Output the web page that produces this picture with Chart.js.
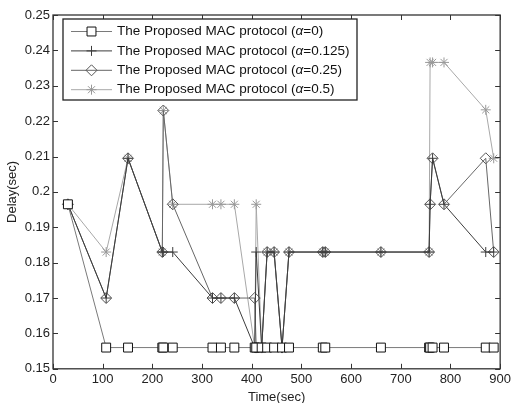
<!DOCTYPE html>
<html>
<head>
<meta charset="utf-8">
<script src="https://cdn.jsdelivr.net/npm/chart.js@4/dist/chart.umd.min.js"></script>
<style>
  html, body { margin: 0; padding: 0; background: #fff; }
  #wrap { width: 514px; height: 403px; }
</style>
</head>
<body>
<div id="wrap"><canvas id="chart"></canvas></div>
<script>
// time stamps (sec) shared by all four runs
const times = [30, 107, 151, 220, 222, 241, 321, 338, 365, 406, 409, 420, 431, 445, 461, 475, 543, 548, 660, 757, 759, 764, 787, 871, 887];

// delay (sec) per run
const delayA0 = [0.1965, 0.156, 0.156, 0.156, 0.156, 0.156, 0.156, 0.156, 0.156, 0.156, 0.156, 0.156, 0.156, 0.156, 0.156, 0.156, 0.156, 0.156, 0.156, 0.156, 0.156, 0.156, 0.156, 0.156, 0.156];
const delayA0125 = [0.1965, 0.170, 0.2095, 0.183, 0.183, 0.183, 0.170, 0.170, 0.170, 0.156, 0.183, 0.156, 0.183, 0.183, 0.156, 0.183, 0.183, 0.183, 0.183, 0.183, 0.1965, 0.2095, 0.1965, 0.183, 0.183];
const delayA025 = [0.1965, 0.170, 0.2095, 0.183, 0.223, 0.1965, 0.170, 0.170, 0.170, 0.170, 0.156, 0.156, 0.183, 0.183, 0.156, 0.183, 0.183, 0.183, 0.183, 0.183, 0.1965, 0.2095, 0.1965, 0.2095, 0.183];
const delayA05 = [0.1965, 0.183, 0.2095, 0.183, 0.223, 0.1965, 0.1965, 0.1965, 0.1965, 0.156, 0.1965, 0.156, 0.183, 0.183, 0.156, 0.183, 0.183, 0.183, 0.183, 0.183, 0.2366, 0.2366, 0.2366, 0.2232, 0.2095];

const alphaLabels = ["0", "0.125", "0.25", "0.5"];
const xTickValues = [0, 100, 200, 300, 400, 500, 600, 700, 800, 900];
const yTickValues = [0.15, 0.16, 0.17, 0.18, 0.19, 0.2, 0.21, 0.22, 0.23, 0.24, 0.25];

const FONT = "'Liberation Sans', Arial, Helvetica, sans-serif";

function pts(ys) {
    return times.map((t, i) => ({ x: t, y: ys[i] }));
}

const series = [
    { ys: delayA0, line: "#7a7a7a", mark: "#111", style: "rect", r: 6.3, bg: "#fff" },
    { ys: delayA0125, line: "#3c3c3c", mark: "#3c3c3c", style: "cross", r: 5, bg: "transparent" },
    { ys: delayA025, line: "#666", mark: "#555", style: "rectRot", r: 5.5, bg: "transparent" },
    { ys: delayA05, line: "#a8a8a8", mark: "#999", style: "star", r: 5, bg: "transparent" },
];

// frame + inward matlab-style ticks, then the boxed legend
const framePlugin = {
    id: "frame",
    afterDatasetsDraw(chart) {
        const { ctx, chartArea: a, scales } = chart;
        ctx.save();
        ctx.strokeStyle = "#333";
        ctx.lineWidth = 1.3;
        ctx.strokeRect(a.left, a.top, a.right - a.left, a.bottom - a.top);
        ctx.lineWidth = 1;
        ctx.beginPath();
        xTickValues.forEach(v => {
            const px = Math.round(scales.x.getPixelForValue(v)) + 0.5;
            ctx.moveTo(px, a.bottom); ctx.lineTo(px, a.bottom - 5);
            ctx.moveTo(px, a.top); ctx.lineTo(px, a.top + 5);
        });
        yTickValues.forEach(v => {
            const py = Math.round(scales.y.getPixelForValue(v)) + 0.5;
            ctx.moveTo(a.left, py); ctx.lineTo(a.left + 5, py);
            ctx.moveTo(a.right, py); ctx.lineTo(a.right - 5, py);
        });
        ctx.stroke();
        ctx.restore();
    },
    afterDraw(chart) {
        const { ctx } = chart;
        const bx = 63, by = 19, bw = 294, bh = 81;
        ctx.save();
        ctx.fillStyle = "#fff";
        ctx.fillRect(bx, by, bw, bh);
        ctx.strokeStyle = "#222";
        ctx.lineWidth = 1.3;
        ctx.strokeRect(bx, by, bw, bh);
        chart.data.datasets.forEach((ds, i) => {
            const s = series[i];
            const cy = 31.5 + i * 19.4;
            ctx.strokeStyle = s.line;
            ctx.lineWidth = 1;
            ctx.beginPath();
            ctx.moveTo(71, cy); ctx.lineTo(112, cy);
            ctx.stroke();
            ctx.fillStyle = s.bg === "transparent" ? "rgba(0,0,0,0)" : s.bg;
            ctx.strokeStyle = s.mark;
            Chart.helpers.drawPoint(ctx, { pointStyle: s.style, radius: s.r, borderWidth: 1 }, 91.5, cy);
            ctx.fillStyle = "#111";
            ctx.textBaseline = "middle";
            let tx = 117;
            const pre = "The Proposed MAC protocol (";
            ctx.font = "13.5px " + FONT;
            ctx.fillText(pre, tx, cy);
            tx += ctx.measureText(pre).width;
            ctx.font = "italic 13.5px " + FONT;
            ctx.fillText("\u03b1", tx, cy);
            tx += ctx.measureText("\u03b1").width;
            ctx.font = "13.5px " + FONT;
            ctx.fillText("=" + alphaLabels[i] + ")", tx, cy);
        });
        ctx.restore();
    }
};

new Chart(document.getElementById("chart"), {
    type: "line",
    data: {
        datasets: series.map((s, i) => ({
            label: "The Proposed MAC protocol (\u03b1=" + alphaLabels[i] + ")",
            data: pts(s.ys),
            borderColor: s.line,
            borderWidth: 1,
            pointStyle: s.style,
            pointRadius: s.r,
            pointBorderColor: s.mark,
            pointBackgroundColor: s.bg,
            pointBorderWidth: 1,
            tension: 0,
            fill: false,
        })),
    },
    options: {
        responsive: true,
        maintainAspectRatio: false,
        animation: false,
        layout: { padding: { top: 15, right: 11, left: 0, bottom: -2 } },
        plugins: {
            legend: { display: false },
            tooltip: { enabled: false },
        },
        scales: {
            x: {
                type: "linear",
                min: 0, max: 900,
                afterBuildTicks: s => { s.ticks = xTickValues.map(v => ({ value: v })); },
                grid: { display: false, drawTicks: false },
                border: { display: false },
                ticks: { color: "#222", padding: 3, maxRotation: 0, font: { family: FONT, size: 13 } },
                title: { display: true, text: "Time(sec)", color: "#222", padding: { top: -1, bottom: 0 }, font: { family: FONT, size: 13 } },
            },
            y: {
                type: "linear",
                min: 0.15, max: 0.25,
                afterBuildTicks: s => { s.ticks = yTickValues.map(v => ({ value: v })); },
                afterFit: s => { s.width = 53; },
                grid: { display: false, drawTicks: false },
                border: { display: false },
                ticks: {
                    color: "#222", padding: 3, font: { family: FONT, size: 13 },
                    callback: v => String(Number(v.toFixed(2))),
                },
                title: { display: true, text: "Delay(sec)", color: "#222", padding: { top: 5, bottom: 0 }, font: { family: FONT, size: 13 } },
            },
        },
    },
    plugins: [framePlugin],
});
</script>
</body>
</html>
